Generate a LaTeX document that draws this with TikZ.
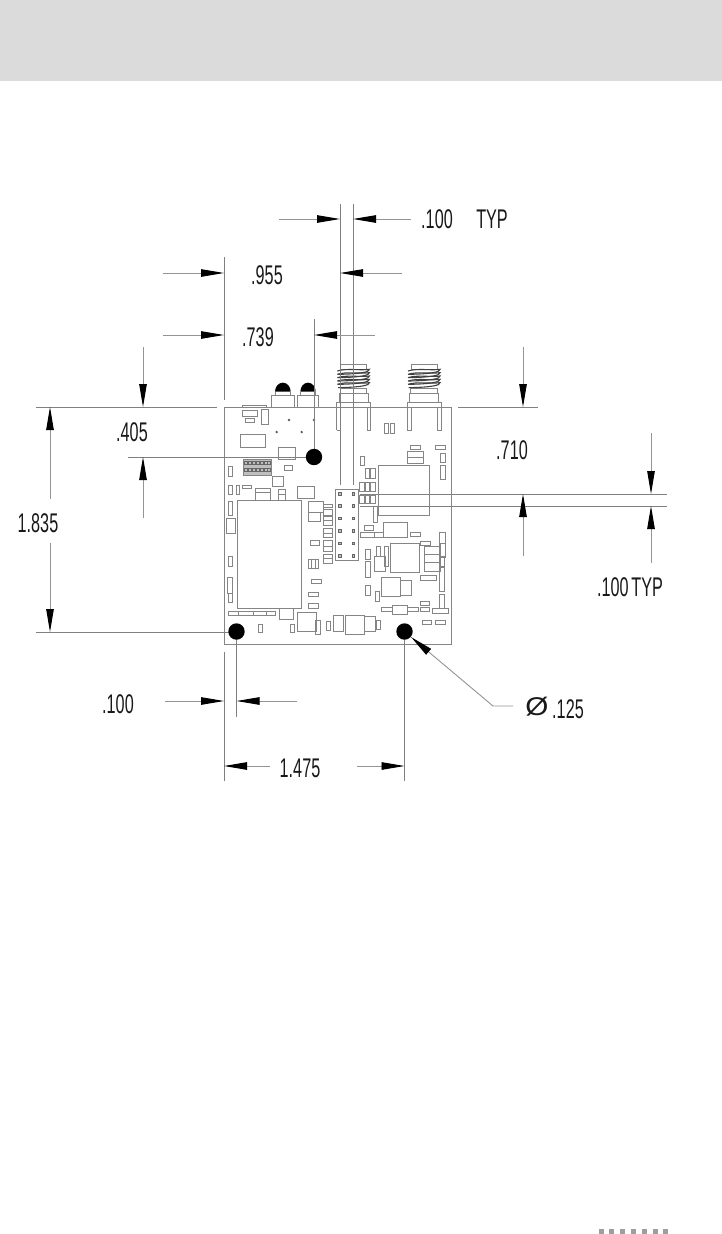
\documentclass[tikz,border=0pt]{standalone}
\usepackage{fontspec}
\usepackage{graphicx}
\setmainfont{Liberation Sans}
\usetikzlibrary{arrows.meta}
\newcommand{\dimtext}[1]{\fontsize{27}{27}\selectfont\scalebox{0.6}[1]{#1}}
\tikzset{
  dimline/.style={draw=black!42,line width=0.9pt},
  extline/.style={draw=black!50,line width=0.9pt},
  witharrow/.style={dimline,-{Triangle[length=23pt,width=7.5pt,black]}},
  comp/.style={draw=black!48,line width=0.8pt},
  label/.style={inner sep=0pt,text=black!90},
  coilline/.style={draw=black!75,line width=1.1pt},
  hole/.style={fill=black,draw=none},
  footdot/.style={fill=black!38,draw=none}
}
\begin{document}
\begin{tikzpicture}[x=1pt,y=-1pt]
\useasboundingbox (0,0) rectangle (722,1234);
\fill[black!14] (0,0) rectangle (722,81);
\foreach \x in {599,609,620,631,642,653,663} \fill[footdot] (\x,1229) rectangle (\x+5,1234);

% board
\draw[comp] (224,407) rectangle (451,644);

% upper half of the board, in zoom coordinates
\begin{scope}[shift={(220,350)},scale=0.33333]
  \foreach \a/\b/\c/\d in {
   67/165/140/172,67/180/113/198,75/205/103/217,125/178/145/222,62/252/135/293,175/293/225/328,
   25/350/37/380,193/346/217/361,157/378/189/410,26/405/37/433,48/405/59/433,67/405/95/416,
   107/414/150/428,107/428/150/450,174/418/197/432,174/432/197/450,233/410/283/445,
   155/135/222/172,233/135/294/172,
   493/219/504/249,512/219/523/249,571/287/600/299,647/287/677/299,562/305/609/322,562/322/609/340,
   660/310/675/338,660/346/677/388,421/318/433/347,436/355/449/384,452/355/465/384,
   418/396/433/425,436/396/449/425,452/396/465/425,
   360/43/438/58,575/43/653/58,357/130/444/157,568/130/656/157,360/115/440/130,572/115/652/130}
   \draw[comp] (\a,\b) rectangle (\c,\d);
  % LEDs
  \fill (165,125) arc[start angle=180,end angle=360,x radius=23.5,y radius=27] -- cycle;
  \fill (241,125) arc[start angle=180,end angle=360,x radius=23,y radius=27] -- cycle;
  \draw[comp] (165,125) -- (165,135) (212,125) -- (212,135) (241,125) -- (241,135) (287,125) -- (287,135);
  % small dots
  \foreach \a/\b in {207/210,282/210,170/246,245/246} \fill[black!65] (\a,\b) circle[radius=4];
  % connector brackets
  \draw[comp] (350,240) -- (350,157) -- (452,157) -- (452,240) -- (441,240) -- (441,170) (350,240) -- (360,240) -- (360,170);
  \draw[comp] (562,240) -- (562,157) -- (663,157) -- (663,240) -- (652,240) -- (652,170) (562,240) -- (573,240) -- (573,170);
  % coils
  \foreach \o in {0,212} {
    \foreach \y in {60,70,80,90,100} {
      \draw[coilline] (352+\o,\y+3) .. controls (380+\o,\y-6) and (420+\o,\y+2) .. (448+\o,\y-2)
                      .. controls (450+\o,\y+6) and (420+\o,\y+12) .. (354+\o,\y+13);
    }
  }
  % chip with pads
  \draw[comp,fill=black!25] (70,328) rectangle (153,375);
  \foreach \x in {77,89,101,113,125,137,147} \foreach \y in {338,360}
    \draw[black!60,line width=0.8pt] (\x-4,\y-4) rectangle (\x+4,\y+4);
\end{scope}

% lower half of the board, in zoom coordinates
\begin{scope}[shift={(220,490)},scale=0.33333]
  \draw[comp] (476,-75) rectangle (627,75);
  \foreach \a/\b/\c/\d in {
   25/35/37/75,18/85/45/130,25/200/37/230,23/263/37/310,25/310/37/338,53/30/243/355,
   265/35/310/68,265/68/302/95,310/42/338/53,310/58/338/75,310/80/338/92,310/92/338/105,
   310/115/338/130,310/130/338/142,310/150/338/168,310/168/338/185,310/192/338/205,310/205/338/220,
   270/152/297/166,265/208/295/235,273/268/303/280,265/308/295/320,265/340/295/355,
   25/363/55/377,55/363/100/377,100/363/140/377,140/363/165/377,
   178/355/220/387,232/367/288/423,287/390/302/432,210/402/222/428,115/402/127/428,318/394/330/422,
   340/377/370/423,377/377/433/432,433/380/465/425,468/390/482/418,
   460/50/472/98,432/107/460/120,422/128/462/143,462/128/490/143,490/97/563/143,572/128/600/140,
   657/128/676/200,662/160/676/202,437/178/451/207,468/168/482/200,492/168/506/230,462/200/495/243,
   435/213/451/262,512/160/598/248,602/155/632/167,612/170/660/192,612/192/660/218,612/218/660/245,
   658/200/672/228,602/255/650/270,657/232/672/305,657/312/672/355,485/263/542/320,542/272/573/315,
   435/285/451/315,465/303/479/333,517/345/563/373,485/353/517/365,563/353/595/365,602/335/628/347,
   602/352/628/365,638/355/686/369,606/390/635/404,647/390/676/404,
   418/15/433/40,436/15/449/40,452/15/465/40,347/-3/415/210}
   \draw[comp] (\a,\b) rectangle (\c,\d);
  \draw[comp] (273,208) -- (273,235) (285,208) -- (285,235);
  \foreach \y in {12,48,85,122,160,197} \foreach \x in {360,400}
    \draw[black!60,line width=0.9pt,fill=black!25] (\x-4,\y-4) rectangle (\x+4,\y+4);
\end{scope}

% extension lines
\draw[extline] (340,204) -- (340,485);
\draw[extline] (353,204) -- (353,485);
\draw[extline] (224,257) -- (224,400);
\draw[extline] (314,319) -- (314,457);
\draw[extline] (36,407) -- (217,407);
\draw[extline] (128,457) -- (314,457);
\draw[extline] (36,632) -- (236,632);
\draw[extline] (458,407) -- (538,407);
\draw[extline] (360,494) -- (667,494);
\draw[extline] (360,506) -- (667,506);
\draw[extline] (224,652) -- (224,781);
\draw[extline] (236.5,632) -- (236.5,717);
\draw[extline] (404.5,632) -- (404.5,781);

% mounting holes
\fill[hole] (314,457) circle[radius=8.2];
\fill[hole] (236.5,631.5) circle[radius=8.2];
\fill[hole] (404.5,631.5) circle[radius=8.2];

% dimension arrows
\draw[witharrow] (279,219) -- (340,219);
\draw[witharrow] (411,219) -- (353,219);
\draw[witharrow] (163,273) -- (224,273);
\draw[witharrow] (402,273) -- (340,273);
\draw[witharrow] (163,335) -- (224,335);
\draw[witharrow] (375,335) -- (314,335);
\draw[witharrow] (143,347) -- (143,407);
\draw[witharrow] (143,518) -- (143,457);
\draw[witharrow] (50,499) -- (50,407);
\draw[witharrow] (50,543) -- (50,632);
\draw[witharrow] (523,347) -- (523,407);
\draw[witharrow] (523,556) -- (523,494);
\draw[witharrow] (651,433) -- (651,494);
\draw[witharrow] (651,563) -- (651,506);
\draw[witharrow] (165,701) -- (224,701);
\draw[witharrow] (297,701) -- (236.5,701);
\draw[witharrow] (270,766) -- (224,766);
\draw[witharrow] (357,766) -- (404.5,766);
\draw[witharrow] (513,706) -- (493,706) -- (411,637);

% labels
\node[label] (tA) at (437,219) {\dimtext{.100}};
\node[label] (tB) at (492,219) {\dimtext{TYP}};
\node[label] (tC) at (267,275) {\dimtext{.955}};
\node[label] (tD) at (258,337) {\dimtext{.739}};
\node[label] (tE) at (132,432) {\dimtext{.405}};
\node[label] (tF) at (38,523) {\dimtext{1.835}};
\node[label] (tG) at (512,450) {\dimtext{.710}};
\node[label] (tH) at (630,587) {\dimtext{.100\,TYP}};
\node[label] (tI) at (118,704) {\dimtext{.100}};
\node[label] (tJ) at (300,768) {\dimtext{1.475}};
\node[label] (tK) at (537,707) {\fontsize{27}{27}\selectfont\scalebox{1.1}[0.95]{Ø}};
\node[label] (tL) at (568,709) {\dimtext{.125}};
\end{tikzpicture}
\end{document}
